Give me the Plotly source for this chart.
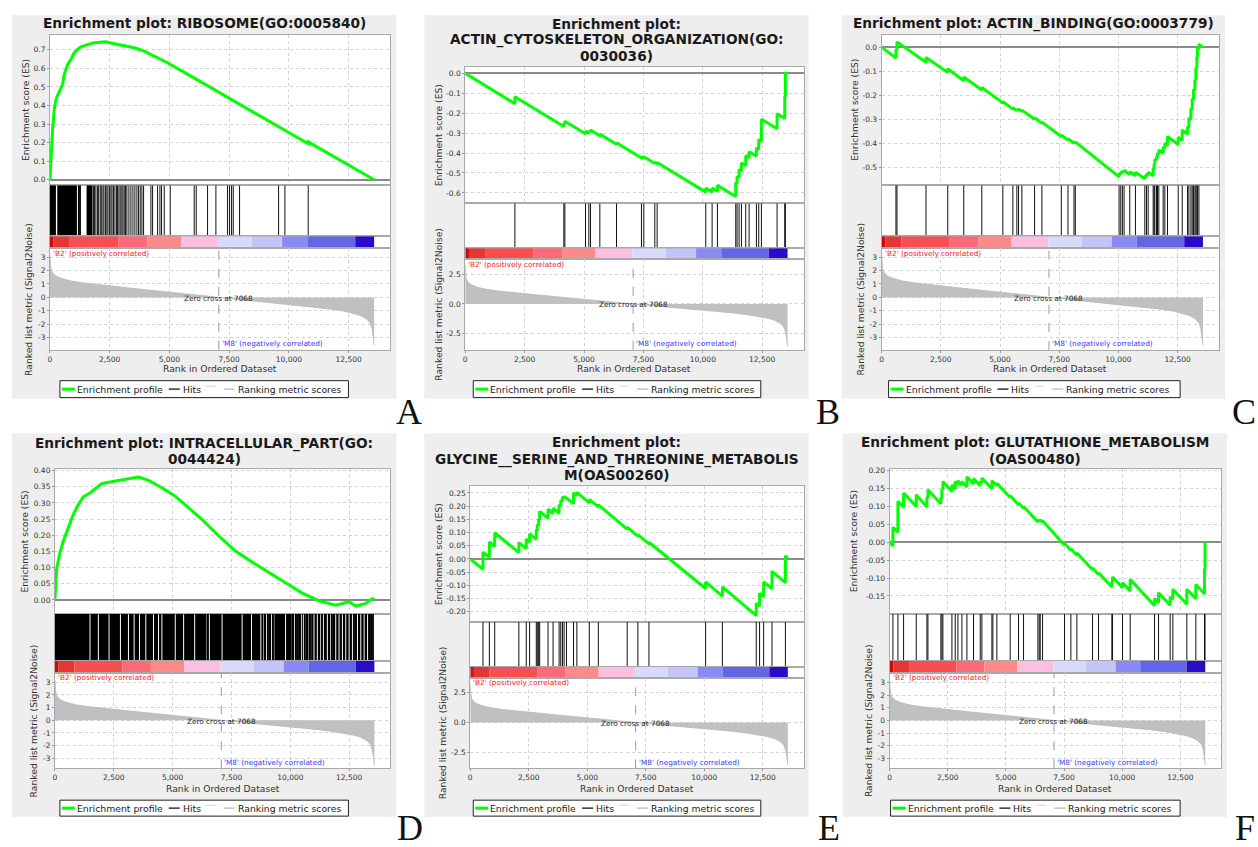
import plotly.graph_objects as go

W, H = 1258, 847
N_GENES = 13570
ZERO_CROSS = 7068
X_MAX = 14250

# ---------------- shared ranked list (Signal2Noise) ----------------
metric_rank = [0, 15, 40, 100, 250, 500, 900, 1400, 2000, 2600, 3200, 3800, 4400, 5000,
               5600, 6200, 6700, 7068, 7600, 8200, 8800, 9400, 10000, 10600, 11200, 11800,
               12300, 12700, 13000, 13250, 13400, 13480, 13530, 13570]
metric_value = [3.2, 2.6, 2.15, 1.85, 1.6, 1.4, 1.22, 1.08, 0.95, 0.83, 0.72, 0.61, 0.5, 0.4,
                0.3, 0.18, 0.08, 0.0, -0.1, -0.2, -0.3, -0.41, -0.51, -0.62, -0.74, -0.88,
                -1.02, -1.18, -1.35, -1.6, -1.9, -2.3, -2.9, -3.55]

# heat bar blocks along the ranked list
heat_edges = [0, 155, 832, 2877, 4077, 5487, 7038, 8448, 9718, 10776, 12779, 13570]
heat_colors = ["#cc0a0a", "#e53535", "#f64f4f", "#fb6a78", "#fd8a8a", "#fbc0e0",
               "#d9d9fc", "#c4c4f8", "#8a8af4", "#6464e6", "#2a0cc8"]

rank_ticks = [0, 2500, 5000, 7500, 10000, 12500]
metric_ticks_int = [-3, -2, -1, 0, 1, 2, 3]
metric_ticks_half = [-2.5, 0.0, 2.5]

# ---------------- A: RIBOSOME ----------------
a_es_rank = [0, 42, 112, 181, 251, 320, 390, 460, 530, 600, 670, 740, 879, 1018, 1158, 1297,
             1436, 1576, 1715, 1855, 2100, 2343, 2600, 2831, 3200, 3529, 3947, 4923, 6318,
             7713, 9107, 10502, 10811, 10811, 11897, 13570]
a_es_value = [0.0, 0.108, 0.27, 0.378, 0.432, 0.455, 0.477, 0.495, 0.513, 0.567, 0.595, 0.62,
              0.648, 0.684, 0.702, 0.716, 0.722, 0.729, 0.733, 0.738, 0.740, 0.743, 0.735,
              0.729, 0.722, 0.711, 0.693, 0.63, 0.527, 0.424, 0.320, 0.217, 0.194, 0.204,
              0.124, 0.0]
a_hit_start = [0, 307, 1185, 1269, 1534]
a_hit_end = [251, 1130, 1227, 1297, 1785]
a_hits = [1827, 1870, 1925, 1995, 2040, 2106, 2150, 2218, 2262, 2330, 2385, 2430, 2497, 2553,
          2600, 2664, 2720, 2790, 2832, 2888, 2943, 3010, 3055, 3111, 3167, 3222, 3306, 3390,
          3474, 3557, 3641, 3711, 3780, 3850, 3920, 4227, 4297, 4506, 4604, 4673, 4785, 5036,
          6040, 6124, 6598, 6947, 7435, 7519, 7603, 7673, 7938, 9570, 9835, 10811]
a_es_ticks = [0.0, 0.1, 0.2, 0.3, 0.4, 0.5, 0.6, 0.7]

# ---------------- B: ACTIN_CYTOSKELETON_ORGANIZATION ----------------
b_hits = [2090, 4151, 4194, 5063, 5203, 5273, 5666, 6367, 7419, 7517, 7980, 8079, 10126,
          10393, 10617, 11388, 11444, 11529, 11627, 11809, 11950, 12258, 12356, 12468,
          13128, 13450, 13478]
b_es_pre = [-0.152, -0.267, -0.255, -0.303, -0.301, -0.294, -0.313, -0.356, -0.425, -0.424,
            -0.452, -0.453, -0.596, -0.596, -0.592, -0.618, -0.552, -0.523, -0.490, -0.463,
            -0.423, -0.415, -0.382, -0.340, -0.278, -0.226, -0.118]
b_es_post = [-0.117, -0.252, -0.240, -0.291, -0.289, -0.284, -0.305, -0.348, -0.417, -0.418,
             -0.446, -0.447, -0.576, -0.576, -0.562, -0.548, -0.517, -0.483, -0.450, -0.413,
             -0.393, -0.375, -0.332, -0.230, -0.203, -0.116, 0.0]
b_es_ticks = [-0.6, -0.5, -0.4, -0.3, -0.2, -0.1, 0.0]

# ---------------- C: ACTIN_BINDING ----------------
c_hits = [606, 649, 1876, 2793, 3470, 4231, 5120, 5543, 5712, 5783, 5924, 6460, 6770, 7588,
          7870, 8124, 8181, 10028, 10099, 10169, 10240, 10479, 10719, 11114, 11185, 11255,
          11467, 11509, 11537, 11608, 11650, 11706, 11890, 11960, 12073, 12525, 12694, 12920,
          12976, 13061, 13117, 13173, 13230, 13272, 13314, 13342, 13399]
c_es_pre = [-0.045, -0.013, -0.063, -0.105, -0.140, -0.178, -0.232, -0.258, -0.264, -0.263,
            -0.268, -0.300, -0.317, -0.372, -0.386, -0.400, -0.399, -0.540, -0.530, -0.523,
            -0.520, -0.530, -0.535, -0.548, -0.540, -0.533, -0.535, -0.508, -0.487, -0.471,
            -0.458, -0.444, -0.441, -0.420, -0.408, -0.405, -0.387, -0.362, -0.334, -0.301,
            -0.259, -0.219, -0.179, -0.138, -0.088, -0.042, -0.009]
c_es_post = [-0.010, 0.022, -0.043, -0.090, -0.124, -0.168, -0.227, -0.252, -0.258, -0.258,
             -0.262, -0.294, -0.312, -0.366, -0.381, -0.395, -0.394, -0.525, -0.518, -0.515,
             -0.512, -0.518, -0.520, -0.535, -0.528, -0.520, -0.505, -0.485, -0.466, -0.455,
             -0.440, -0.428, -0.415, -0.400, -0.372, -0.375, -0.345, -0.330, -0.295, -0.255,
             -0.215, -0.175, -0.135, -0.085, -0.040, -0.005, 0.012]
c_es_ticks = [-0.5, -0.4, -0.3, -0.2, -0.1, 0.0]

# ---------------- D: INTRACELLULAR_PART ----------------
d_es_rank = [0, 71, 213, 355, 568, 781, 994, 1207, 1491, 1775, 1988, 2272, 2698, 3124, 3550,
             3976, 4544, 5112, 5680, 6248, 6958, 7668, 8378, 9088, 9798, 10508, 11218, 11928,
             12496, 12780, 13206, 13490, 13570]
d_es_value = [0.0, 0.095, 0.146, 0.182, 0.223, 0.264, 0.295, 0.319, 0.331, 0.347, 0.360,
              0.364, 0.370, 0.376, 0.380, 0.370, 0.347, 0.321, 0.285, 0.249, 0.198, 0.151,
              0.117, 0.084, 0.053, 0.021, -0.003, -0.016, -0.006, -0.019, -0.011, 0.004, 0.0]
d_hit_start = [0, 1512, 1867, 2320, 2804, 3145, 3386, 3614, 3883, 4210, 4423, 4565, 5133, 5488,
               5957, 6482, 6581, 7121, 7973, 8371, 8768, 8896, 9010, 9109, 9223, 9322, 9819,
               10103, 10202, 10302, 10387, 10501, 10572, 10699, 10813, 10884, 11026, 11168,
               11310, 11424, 11594, 11736, 11850, 11949, 12091, 12233, 12375, 12517, 12659,
               12773, 12872, 13014, 13156, 13298, 13369, 13440, 13511]
d_hit_end = [1470, 1825, 2280, 2762, 3103, 3344, 3572, 3841, 4168, 4381, 4523, 5091, 5446, 5915,
             6440, 6539, 7079, 7931, 8329, 8726, 8854, 8968, 9067, 9181, 9280, 9777, 10061,
             10160, 10260, 10345, 10459, 10530, 10657, 10771, 10842, 10984, 11126, 11268,
             11382, 11552, 11694, 11808, 11907, 12049, 12191, 12333, 12475, 12617, 12731,
             12830, 12972, 13114, 13256, 13327, 13398, 13469, 13533]
d_es_ticks = [0.0, 0.05, 0.1, 0.15, 0.2, 0.25, 0.3, 0.35, 0.4]

# ---------------- E: GLYCINE, SERINE AND THREONINE METABOLISM ----------------
e_hits = [544, 817, 1046, 2077, 2393, 2536, 2822, 2865, 2923, 2966, 3324, 3539, 3797, 3868,
          3940, 4011, 4112, 4413, 4556, 5086, 5473, 6705, 7163, 7636, 10057, 10774, 12221,
          12364, 12536, 12894, 13467]
e_es_pre = [-0.039, 0.006, 0.047, 0.024, 0.039, 0.064, 0.074, 0.107, 0.126, 0.147, 0.154,
            0.172, 0.173, 0.200, 0.217, 0.230, 0.229, 0.210, 0.240, 0.212, 0.197, 0.113,
            0.086, 0.057, -0.112, -0.141, -0.215, -0.178, -0.143, -0.113, -0.090]
e_es_post = [0.026, 0.064, 0.099, 0.062, 0.075, 0.095, 0.110, 0.130, 0.150, 0.180, 0.188,
             0.192, 0.205, 0.222, 0.235, 0.236, 0.232, 0.250, 0.252, 0.225, 0.205, 0.120,
             0.092, 0.063, -0.087, -0.106, -0.168, -0.130, -0.087, -0.047, 0.012]
e_es_ticks = [-0.2, -0.15, -0.1, -0.05, 0.0, 0.05, 0.1, 0.15, 0.2, 0.25]

# ---------------- F: GLUTATHIONE_METABOLISM ----------------
f_hits = [143, 358, 602, 1146, 1605, 1648, 2206, 2249, 2292, 2679, 2822, 2937, 3109, 3324,
          3610, 3897, 3968, 4398, 4441, 4613, 5186, 5544, 5759, 6375, 6433, 6476, 6576, 7521,
          7794, 8052, 8725, 8983, 9556, 9585, 10014, 10344, 11390, 11562, 12063, 12178,
          12779, 13166, 13539, 13560]
f_es_pre = [-0.010, 0.028, 0.098, 0.100, 0.099, 0.123, 0.108, 0.122, 0.147, 0.142, 0.150,
            0.162, 0.160, 0.155, 0.163, 0.158, 0.165, 0.150, 0.169, 0.160, 0.125, 0.105,
            0.095, 0.057, 0.058, 0.059, 0.056, -0.008, -0.023, -0.036, -0.077, -0.090,
            -0.125, -0.112, -0.127, -0.136, -0.177, -0.169, -0.176, -0.160, -0.173, -0.158,
            -0.144, -0.076]
f_es_post = [0.042, 0.115, 0.138, 0.133, 0.126, 0.147, 0.125, 0.150, 0.170, 0.160, 0.170,
             0.172, 0.170, 0.183, 0.178, 0.170, 0.180, 0.172, 0.172, 0.165, 0.130, 0.110,
             0.100, 0.062, 0.062, 0.063, 0.060, -0.003, -0.018, -0.030, -0.072, -0.085,
             -0.110, -0.097, -0.113, -0.104, -0.157, -0.141, -0.152, -0.131, -0.131, -0.118,
             -0.074, 0.001]
f_es_ticks = [-0.15, -0.1, -0.05, 0.0, 0.05, 0.1, 0.15, 0.2]


def sawtooth(hits, pre, post):
    """Running-sum path: a jump at every hit, straight segments in between."""
    xs, ys = [0], [0.0]
    for h, a, b in zip(hits, pre, post):
        xs += [h, h]
        ys += [a, b]
    xs.append(N_GENES)
    ys.append(0.0)
    return xs, ys


panels = [
    dict(label="A", title=["Enrichment plot: RIBOSOME(GO:0005840)"], title_y=[20.5],
         es=(a_es_rank, a_es_value), hits=a_hits, spans=(a_hit_start, a_hit_end),
         es_ticks=a_es_ticks, es_fmt="{:.1f}", es_range=[-0.03, 0.78],
         met_ticks=metric_ticks_int, met_fmt="{:.0f}", met_range=[-3.9, 3.67],
         box=(10, 12, 395, 397), plot_x=(48, 389), es_y=(32, 183), hits_y=(183, 234),
         heat_y=(234, 246), met_y=(246, 348), legend=(58, 379, 347, 396),
         es_tx=23, met_tx=27, xt_y=367, letter=(408, 410)),
    dict(label="B", title=["Enrichment plot:", "ACTIN_CYTOSKELETON_ORGANIZATION(GO:", "0030036)"],
         title_y=[21, 37, 53], es=sawtooth(b_hits, b_es_pre, b_es_post), hits=b_hits,
         spans=None, es_ticks=b_es_ticks, es_fmt="{:.1f}", es_range=[-0.652, 0.033],
         met_ticks=metric_ticks_half, met_fmt="{:.1f}", met_range=[-3.83, 3.75],
         box=(423, 12, 808, 397), plot_x=(464, 803), es_y=(64, 201), hits_y=(201, 246),
         heat_y=(246, 257), met_y=(257, 348), legend=(472, 379, 760, 396),
         es_tx=437, met_tx=437, xt_y=367, letter=(827, 410)),
    dict(label="C", title=["Enrichment plot: ACTIN_BINDING(GO:0003779)"], title_y=[20.5],
         es=sawtooth(c_hits, c_es_pre, c_es_post), hits=c_hits, spans=None,
         es_ticks=c_es_ticks, es_fmt="{:.1f}", es_range=[-0.575, 0.051],
         met_ticks=metric_ticks_int, met_fmt="{:.0f}", met_range=[-3.9, 3.67],
         box=(841, 12, 1225, 397), plot_x=(881, 1219), es_y=(32, 183), hits_y=(183, 234),
         heat_y=(234, 246), met_y=(246, 348), legend=(888, 379, 1180, 396),
         es_tx=853, met_tx=860, xt_y=367, letter=(1244, 410)),
    dict(label="D", title=["Enrichment plot: INTRACELLULAR_PART(GO:", "0044424)"],
         title_y=[442, 458], es=(d_es_rank, d_es_value), hits=None,
         spans=(d_hit_start, d_hit_end), es_ticks=d_es_ticks, es_fmt="{:.2f}",
         es_range=[-0.043, 0.404], met_ticks=metric_ticks_int, met_fmt="{:.0f}",
         met_range=[-3.79, 3.76],
         box=(10, 432, 395, 817), plot_x=(53, 389), es_y=(468, 613), hits_y=(613, 660),
         heat_y=(660, 672), met_y=(672, 768), legend=(58, 800, 347, 816),
         es_tx=23, met_tx=32, xt_y=788, letter=(409, 828)),
    dict(label="E", title=["Enrichment plot:", "GLYCINE__SERINE_AND_THREONINE_METABOLIS",
                           "M(OAS00260)"],
         title_y=[441, 458, 474], es=sawtooth(e_hits, e_es_pre, e_es_post), hits=e_hits,
         spans=None, es_ticks=e_es_ticks, es_fmt="{:.2f}", es_range=[-0.238, 0.275],
         met_ticks=metric_ticks_half, met_fmt="{:.1f}", met_range=[-3.83, 3.75],
         box=(423, 432, 808, 817), plot_x=(469, 803), es_y=(485, 621), hits_y=(621, 666),
         heat_y=(666, 677), met_y=(677, 768), legend=(472, 800, 760, 816),
         es_tx=437, met_tx=442, xt_y=788, letter=(828, 828)),
    dict(label="F", title=["Enrichment plot: GLUTATHIONE_METABOLISM", "(OAS00480)"],
         title_y=[441, 458], es=sawtooth(f_hits, f_es_pre, f_es_post), hits=f_hits,
         spans=None, es_ticks=f_es_ticks, es_fmt="{:.2f}", es_range=[-0.2, 0.204],
         met_ticks=metric_ticks_int, met_fmt="{:.0f}", met_range=[-3.79, 3.79],
         box=(842, 432, 1227, 817), plot_x=(889, 1221), es_y=(468, 613), hits_y=(613, 660),
         heat_y=(660, 672), met_y=(672, 768), legend=(890, 800, 1180, 816),
         es_tx=853, met_tx=868, xt_y=788, letter=(1245, 828)),
]

FONT = "DejaVu Sans"
PANEL_BG = "#eeeeee"
BORDER = "#a9a9a9"
GRID = "#d2d2d2"
TICKFONT = dict(family=FONT, size=7.5, color="#333333")


def px_x(v):
    return v / W


def px_y(v):
    return 1 - v / H


def ydom(span):
    return [px_y(span[1]), px_y(span[0])]


def axis_key(kind, n):
    return f"{kind}axis" + ("" if n == 1 else str(n))


def ref(kind, n):
    return kind + ("" if n == 1 else str(n))


fig = go.Figure()
axes = {}
shapes = []
annotations = []


def text(x, y, s, size=9, color="#222222", xanchor="center", yanchor="middle", angle=0,
         xref="paper", yref="paper", weight="normal", family=FONT, **kw):
    annotations.append(dict(x=x, y=y, xref=xref, yref=yref, text=s, showarrow=False,
                            xanchor=xanchor, yanchor=yanchor, textangle=angle,
                            font=dict(family=family, size=size, color=color, weight=weight),
                            **kw))


for i, p in enumerate(panels):
    n_es, n_hit, n_heat, n_met = 4 * i + 1, 4 * i + 2, 4 * i + 3, 4 * i + 4
    bx0, by0, bx1, by1 = p["box"]
    x0, x1 = p["plot_x"]
    xdom = [px_x(x0), px_x(x1)]

    # panel background and the white plotting column
    shapes.append(dict(type="rect", xref="paper", yref="paper", x0=px_x(bx0), x1=px_x(bx1),
                       y0=px_y(by1), y1=px_y(by0), fillcolor=PANEL_BG, line=dict(width=0),
                       layer="below"))
    shapes.append(dict(type="rect", xref="paper", yref="paper", x0=px_x(x0), x1=px_x(x1),
                       y0=px_y(p["met_y"][1]), y1=px_y(p["es_y"][0]), fillcolor="white",
                       line=dict(width=0), layer="below"))

    base_x = dict(domain=xdom, range=[0, X_MAX], showline=True, mirror=True,
                  linecolor=BORDER, linewidth=1, zeroline=False, fixedrange=True)
    base_y = dict(showline=True, mirror=True, linecolor=BORDER, linewidth=1,
                  fixedrange=True)

    # running enrichment score
    axes[axis_key("x", n_es)] = dict(base_x, anchor=ref("y", n_es), tickvals=rank_ticks,
                                     showticklabels=False, ticks="", showgrid=True,
                                     gridcolor=GRID, griddash="dot")
    axes[axis_key("y", n_es)] = dict(base_y, domain=ydom(p["es_y"]), anchor=ref("x", n_es),
                                     range=p["es_range"], tickvals=p["es_ticks"],
                                     ticktext=[p["es_fmt"].format(v) for v in p["es_ticks"]],
                                     showgrid=True, gridcolor=GRID, griddash="dot",
                                     zeroline=True, zerolinecolor="#8a8a8a", zerolinewidth=1.5,
                                     ticks="outside", ticklen=2, tickcolor="#999999",
                                     tickfont=TICKFONT)
    # hits
    axes[axis_key("x", n_hit)] = dict(base_x, anchor=ref("y", n_hit), showticklabels=False,
                                      ticks="", showgrid=False)
    axes[axis_key("y", n_hit)] = dict(base_y, domain=ydom(p["hits_y"]), anchor=ref("x", n_hit),
                                      range=[0, 1], showticklabels=False, ticks="",
                                      showgrid=False, zeroline=False)
    # heat bar
    axes[axis_key("x", n_heat)] = dict(base_x, anchor=ref("y", n_heat), showticklabels=False,
                                       ticks="", showgrid=False)
    axes[axis_key("y", n_heat)] = dict(base_y, domain=ydom(p["heat_y"]),
                                       anchor=ref("x", n_heat), range=[0, 1],
                                       showticklabels=False, ticks="", showgrid=False,
                                       zeroline=False)
    # ranked list metric
    axes[axis_key("x", n_met)] = dict(base_x, anchor=ref("y", n_met), tickvals=rank_ticks,
                                      ticktext=[f"{v:,}" for v in rank_ticks], showgrid=True,
                                      gridcolor=GRID, griddash="dot", ticks="outside",
                                      ticklen=2, tickcolor="#999999", tickfont=TICKFONT)
    axes[axis_key("y", n_met)] = dict(base_y, domain=ydom(p["met_y"]), anchor=ref("x", n_met),
                                      range=p["met_range"], tickvals=p["met_ticks"],
                                      ticktext=[p["met_fmt"].format(v) for v in p["met_ticks"]],
                                      showgrid=True, gridcolor=GRID, griddash="dot",
                                      zeroline=False, ticks="outside", ticklen=2,
                                      tickcolor="#999999", tickfont=TICKFONT)

    # ---- traces ----
    es_x, es_y = p["es"]
    fig.add_trace(go.Scatter(x=es_x, y=es_y, mode="lines",
                             line=dict(color="#00ff00", width=3),
                             xaxis=ref("x", n_es), yaxis=ref("y", n_es),
                             hoverinfo="skip", showlegend=False))

    if p["spans"]:
        starts, ends = p["spans"]
        fig.add_trace(go.Bar(x=[(s + e) / 2 for s, e in zip(starts, ends)],
                             y=[1] * len(starts), width=[e - s for s, e in zip(starts, ends)],
                             marker=dict(color="black", line=dict(width=0)),
                             xaxis=ref("x", n_hit), yaxis=ref("y", n_hit),
                             hoverinfo="skip", showlegend=False))
    if p["hits"]:
        hx, hy = [], []
        for h in p["hits"]:
            hx += [h, h, None]
            hy += [0, 1, None]
        fig.add_trace(go.Scatter(x=hx, y=hy, mode="lines",
                                 line=dict(color="#111111", width=1),
                                 xaxis=ref("x", n_hit), yaxis=ref("y", n_hit),
                                 hoverinfo="skip", showlegend=False))

    fig.add_trace(go.Bar(x=[(a + b) / 2 for a, b in zip(heat_edges[:-1], heat_edges[1:])],
                         y=[1] * len(heat_colors),
                         width=[b - a for a, b in zip(heat_edges[:-1], heat_edges[1:])],
                         marker=dict(color=heat_colors, line=dict(width=0)),
                         xaxis=ref("x", n_heat), yaxis=ref("y", n_heat),
                         hoverinfo="skip", showlegend=False))

    fig.add_trace(go.Scatter(x=metric_rank, y=metric_value, mode="lines", fill="tozeroy",
                             fillcolor="#c0c0c0", line=dict(color="#b8b8b8", width=0.8),
                             xaxis=ref("x", n_met), yaxis=ref("y", n_met),
                             hoverinfo="skip", showlegend=False))

    # zero-cross marker
    shapes.append(dict(type="line", xref=ref("x", n_met), yref=ref("y", n_met) + " domain",
                       x0=ZERO_CROSS, x1=ZERO_CROSS, y0=0, y1=1,
                       line=dict(color="#9a9a9a", width=1, dash="dash")))

    # ---- texts ----
    for line, ly in zip(p["title"], p["title_y"]):
        text(px_x((bx0 + bx1) / 2), px_y(ly), line, size=13.7, color="#1a1a1a",
             weight="bold")
    text(px_x(p["es_tx"]), px_y((p["es_y"][0] + p["es_y"][1]) / 2), "Enrichment score (ES)",
         size=9.2, color="#333333", angle=-90)
    text(px_x(p["met_tx"]), px_y((p["met_y"][0] + p["met_y"][1]) / 2),
         "Ranked list metric (Signal2Noise)", size=9.2, color="#333333", angle=-90)
    text(px_x((x0 + x1) / 2), px_y(p["xt_y"]), "Rank in Ordered Dataset", size=9.2,
         color="#333333")
    text(px_x(x0 + 1), px_y(p["met_y"][0] + 5), "'B2' (positively correlated)", size=7.3,
         color="#ff2020", xanchor="left")
    text(ZERO_CROSS, 0, "Zero cross at 7068", size=7.3, color="#222222",
         xref=ref("x", n_met), yref=ref("y", n_met), yshift=-1)
    text(ZERO_CROSS, px_y(p["met_y"][1] - 6), "'M8' (negatively correlated)", size=7.3,
         color="#3a3aff", xanchor="left", xref=ref("x", n_met), xshift=1)

    # ---- legend box ----
    L, T, R, B = p["legend"]
    mid = (T + B) / 2
    shapes.append(dict(type="rect", xref="paper", yref="paper", x0=px_x(L), x1=px_x(R),
                       y0=px_y(B), y1=px_y(T), fillcolor="white",
                       line=dict(color="#222222", width=1)))
    for a, b, yy, col, lw in [(L + 2, L + 15, mid, "#00ff00", 3),
                              (L + 109, L + 120, mid, "#333333", 1.5),
                              (L + 146, L + 156, mid - 3, "#d4d4d4", 1),
                              (L + 164, L + 175, mid, "#c4c4c4", 1.5)]:
        shapes.append(dict(type="line", xref="paper", yref="paper", x0=px_x(a), x1=px_x(b),
                           y0=px_y(yy), y1=px_y(yy), line=dict(color=col, width=lw)))
    for off, s in [(15, "Enrichment profile"), (121, "Hits"), (176, "Ranking metric scores")]:
        text(px_x(L + off), px_y(mid), s, size=9.3, color="#222222", xanchor="left")

    # ---- panel letter ----
    text(px_x(p["letter"][0]), px_y(p["letter"][1]), p["label"], size=36, color="#111111",
         family="Liberation Serif")

fig.update_layout(width=W, height=H, margin=dict(l=0, r=0, t=0, b=0),
                  paper_bgcolor="white", plot_bgcolor="rgba(0,0,0,0)", showlegend=False,
                  font=dict(family=FONT, color="#222222"), shapes=shapes,
                  annotations=annotations, **axes)

fig.write_html("out.html", include_plotlyjs=True, config={"displayModeBar": False})
